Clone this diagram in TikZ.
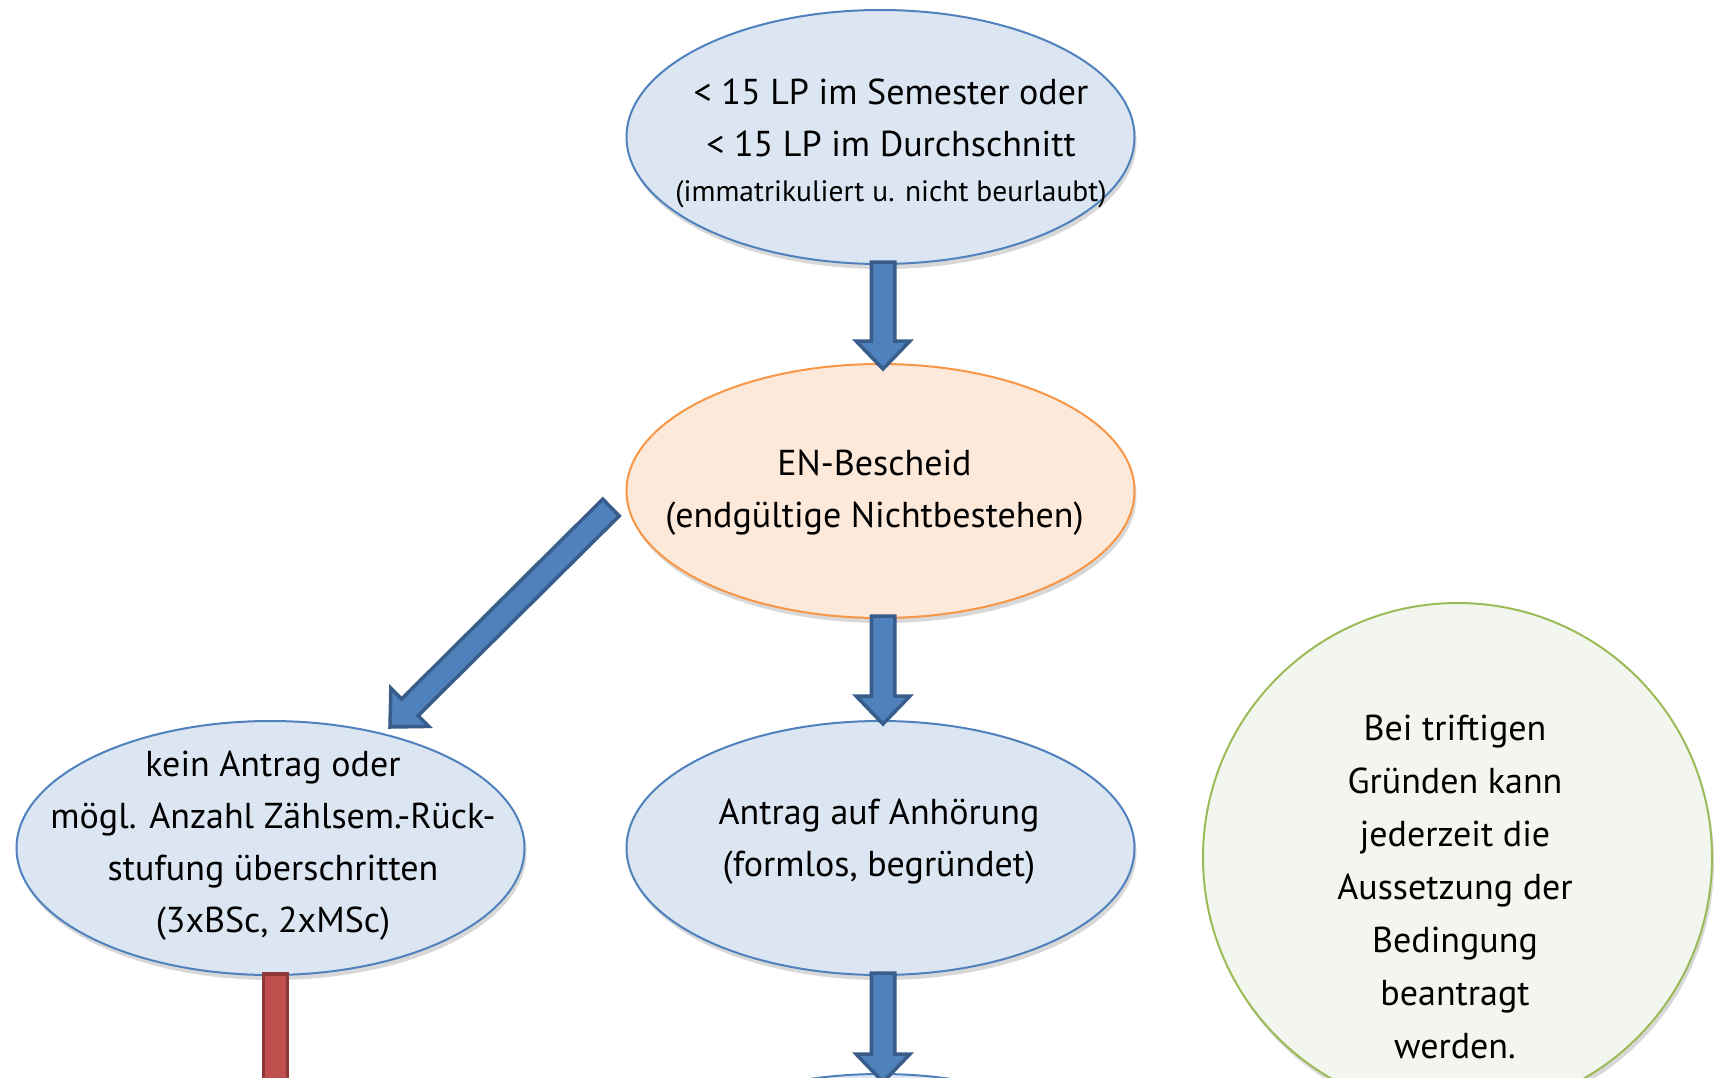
\documentclass[tikz,border=0pt]{standalone}
\usepackage{fontspec}
\setmainfont{PT Sans}
\usetikzlibrary{calc,shadows,shapes.geometric}
\definecolor{bfill}{HTML}{DCE6F2}
\definecolor{bline}{HTML}{4F81BD}
\definecolor{ofill}{HTML}{FDE9D9}
\definecolor{oline}{HTML}{F79646}
\definecolor{gfill}{HTML}{F3F6EF}
\definecolor{gline}{HTML}{9BBB59}
\definecolor{afill}{HTML}{4F81BD}
\definecolor{aline}{HTML}{385D8A}
\definecolor{rfill}{HTML}{C0504D}
\definecolor{rline}{HTML}{8C3836}
\tikzset{
  shape base/.style={line width=2pt, inner sep=0pt,
    drop shadow={shadow xshift=2pt, shadow yshift=-5pt, opacity=0.25, fill=black!60}},
  blueell/.style={shape base, ellipse, draw=bline, fill=bfill, minimum width=508pt, minimum height=254pt},
  orangeell/.style={shape base, ellipse, draw=oline, fill=ofill, minimum width=508pt, minimum height=254pt},
  greencirc/.style={shape base, circle, draw=gline, fill=gfill, minimum size=509pt},
  txt/.style={align=center, inner sep=0pt, font=\fontsize{36}{52}\selectfont},
  barrow/.style={draw=aline, fill=afill, line width=3.5pt, line join=miter},
  redbar/.style={draw=rline, fill=rfill, line width=3.5pt}
}
\newcommand{\blockarrow}[2]{%
  \path ($(#2)!28pt!(#1)$) coordinate (bah);
  \draw[barrow] ($(#1)!11.75pt!90:(#2)$) -- ($(bah)!11.75pt!90:(#2)$) -- ($(bah)!27pt!90:(#2)$) -- (#2)
    -- ($(bah)!27pt!-90:(#2)$) -- ($(bah)!11.75pt!-90:(#2)$) -- ($(#1)!11.75pt!-90:(#2)$) -- cycle;}
\begin{document}
\begin{tikzpicture}[x=1pt,y=-1pt]
\useasboundingbox (0,0) rectangle (1714,1077);
\clip (0,0) rectangle (1714,1077);
\fill[white] (0,0) rectangle (1714,1077);

% shapes
\node[blueell] (top) at (880.5,137) {};
\node[orangeell] (en) at (880.5,491) {};
\node[blueell] (antrag) at (880.5,848) {};
\node[blueell] (kein) at (270.5,848) {};
\node[blueell] (next) at (880.5,1201) {};
\node[greencirc] (gruende) at (1457.5,857.5) {};

% texts
\node[txt] (toptxt) at (891,143) {< 15 LP im Semester oder\\< 15 LP im Durchschnitt\\[-7pt]{\fontsize{29.5}{49}\selectfont (immatrikuliert u. nicht beurlaubt)}};
\node[txt] (entxt) at (874.5,493) {EN-Bescheid\\(endgültige Nichtbestehen)};
\node[txt] (antragtxt) at (879,842) {Antrag auf Anhörung\\(formlos, begründet)};
\node[txt] (keintxt) at (273,846) {kein Antrag oder\\mögl. Anzahl Zählsem.-Rück-\\stufung überschritten\\(3xBSc, 2xMSc)};
\node[txt, font=\fontsize{36}{53}\selectfont] (gruendetxt) at (1455,887) {Bei triftigen\\Gründen kann\\jederzeit die\\Aussetzung der\\Bedingung\\beantragt\\werden.};

% connectors
\coordinate (a1s) at ($(top.south)+(2.5,-3)$);
\coordinate (a1e) at ($(en.north)+(2.5,6)$);
\blockarrow{a1s}{a1e}
\coordinate (a2s) at ($(en.south)+(2.5,-3)$);
\coordinate (a2e) at ($(antrag.north)+(2.5,4)$);
\blockarrow{a2s}{a2e}
\coordinate (a3s) at ($(antrag.south)+(2.5,-3)$);
\coordinate (a3e) at ($(next.north)+(2.5,9)$);
\blockarrow{a3s}{a3e}
\coordinate (a4s) at ($(en.west)+(-14.5,16.5)$);
\coordinate (a4e) at ($(kein.north)+(119.5,7)$);
\blockarrow{a4s}{a4e}
\coordinate (r1s) at ($(kein.south)+(-7,-2)$);
\coordinate (r1e) at ($(kein.south)+(17,130)$);
\draw[redbar] (r1s) rectangle (r1e);
\end{tikzpicture}
\end{document}
